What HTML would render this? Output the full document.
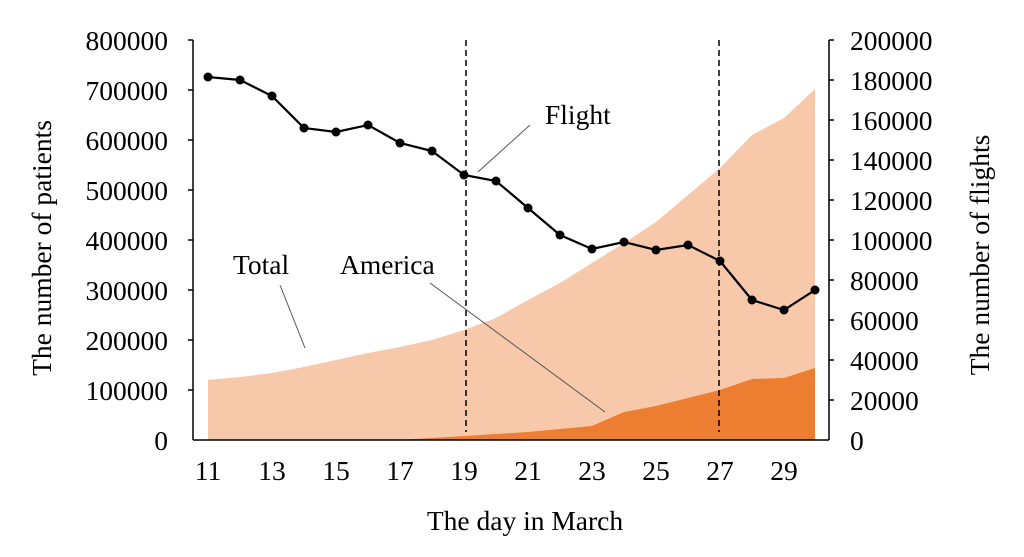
<!DOCTYPE html>
<html><head><style>body{margin:0;background:#fff}</style></head><body>
<svg width="1024" height="552" xmlns="http://www.w3.org/2000/svg" font-family="Liberation Serif, serif" font-size="27.5">
<polygon fill="#F7C9AA" points="208,440 208,380 240,377 272,373 304,367 336,360 368,353 400,347 432,340 464,330 496,318 528,300 560,283 592,263 624,243 656,222 688,195 720,168 752,135 784,118 815,89 815,440"/>
<polygon fill="#ED7D31" points="400,440 432,438 464,436 496,434 528,432 560,429 592,426 624,412 656,406 688,398 720,390 752,379 784,378 815,368 815,440"/>
<line x1="466" y1="40" x2="466" y2="432" stroke="#000" stroke-width="1.5" stroke-dasharray="6,4"/>
<line x1="719" y1="40" x2="719" y2="432" stroke="#000" stroke-width="1.5" stroke-dasharray="6,4"/>
<polyline fill="none" stroke="#000" stroke-width="2.2" points="208,77 240,80 272,96 304,128 336,132 368,125 400,143 432,151 464,175 496,181 528,208 560,235 592,249 624,242 656,250 688,245 720,261 752,300 784,310 815,290"/>
<g fill="#000"><circle cx="208" cy="77" r="4.5"/><circle cx="240" cy="80" r="4.5"/><circle cx="272" cy="96" r="4.5"/><circle cx="304" cy="128" r="4.5"/><circle cx="336" cy="132" r="4.5"/><circle cx="368" cy="125" r="4.5"/><circle cx="400" cy="143" r="4.5"/><circle cx="432" cy="151" r="4.5"/><circle cx="464" cy="175" r="4.5"/><circle cx="496" cy="181" r="4.5"/><circle cx="528" cy="208" r="4.5"/><circle cx="560" cy="235" r="4.5"/><circle cx="592" cy="249" r="4.5"/><circle cx="624" cy="242" r="4.5"/><circle cx="656" cy="250" r="4.5"/><circle cx="688" cy="245" r="4.5"/><circle cx="720" cy="261" r="4.5"/><circle cx="752" cy="300" r="4.5"/><circle cx="784" cy="310" r="4.5"/><circle cx="815" cy="290" r="4.5"/></g>
<g stroke="#000" stroke-width="1.5">
<line x1="193" y1="40" x2="193" y2="440"/><line x1="829" y1="40" x2="829" y2="440"/><line x1="193" y1="440" x2="829" y2="440"/>
<line x1="188" y1="40" x2="193" y2="40"/><line x1="188" y1="90" x2="193" y2="90"/><line x1="188" y1="140" x2="193" y2="140"/><line x1="188" y1="190" x2="193" y2="190"/><line x1="188" y1="240" x2="193" y2="240"/><line x1="188" y1="290" x2="193" y2="290"/><line x1="188" y1="340" x2="193" y2="340"/><line x1="188" y1="390" x2="193" y2="390"/>
<line x1="829" y1="40" x2="834" y2="40"/><line x1="829" y1="80" x2="834" y2="80"/><line x1="829" y1="120" x2="834" y2="120"/><line x1="829" y1="160" x2="834" y2="160"/><line x1="829" y1="200" x2="834" y2="200"/><line x1="829" y1="240" x2="834" y2="240"/><line x1="829" y1="280" x2="834" y2="280"/><line x1="829" y1="320" x2="834" y2="320"/><line x1="829" y1="360" x2="834" y2="360"/><line x1="829" y1="400" x2="834" y2="400"/>
</g>
<g stroke="#555" stroke-width="1"><line x1="530" y1="125" x2="478" y2="172"/><line x1="280" y1="285" x2="305" y2="348"/><line x1="430" y1="283" x2="605" y2="412"/></g>
<text x="545" y="124">Flight</text><text x="233" y="274">Total</text><text x="340" y="274">America</text>
<g text-anchor="end"><text x="168" y="50">800000</text><text x="168" y="100">700000</text><text x="168" y="150">600000</text><text x="168" y="200">500000</text><text x="168" y="250">400000</text><text x="168" y="300">300000</text><text x="168" y="350">200000</text><text x="168" y="400">100000</text><text x="168" y="450">0</text></g>
<g><text x="850" y="50">200000</text><text x="850" y="90">180000</text><text x="850" y="130">160000</text><text x="850" y="170">140000</text><text x="850" y="210">120000</text><text x="850" y="250">100000</text><text x="850" y="290">80000</text><text x="850" y="330">60000</text><text x="850" y="370">40000</text><text x="850" y="410">20000</text><text x="850" y="450">0</text></g>
<g text-anchor="middle"><text x="208" y="480">11</text><text x="272" y="480">13</text><text x="336" y="480">15</text><text x="400" y="480">17</text><text x="464" y="480">19</text><text x="528" y="480">21</text><text x="592" y="480">23</text><text x="656" y="480">25</text><text x="720" y="480">27</text><text x="784" y="480">29</text>
<text x="525" y="530">The day in March</text>
<text transform="translate(51,248) rotate(-90)">The number of patients</text>
<text transform="translate(989,255) rotate(-90)">The number of flights</text></g>
</svg>
</body></html>
